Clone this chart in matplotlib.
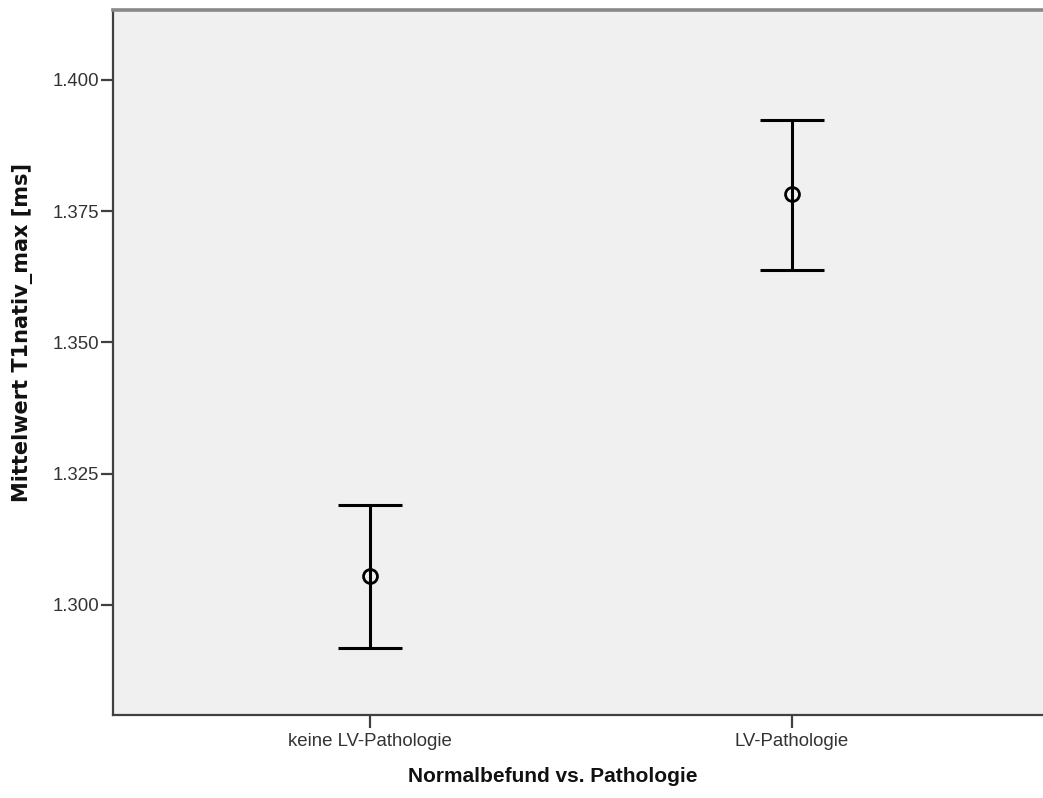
import matplotlib.pyplot as plt
import numpy as np

# group means with 95% CI bounds
groups = ["keine LV-Pathologie", "LV-Pathologie"]
means = [1.3055, 1.3782]
ci_low = [1.2918, 1.3637]
ci_high = [1.3190, 1.3923]
yticks = [1.300, 1.325, 1.350, 1.375, 1.400]

plt.rcParams['font.family'] = ['Liberation Sans', 'DejaVu Sans']

fig = plt.figure(figsize=(10.43, 7.98), dpi=100)
W, H = 1043, 798
ax = fig.add_axes([113/W, 1 - 715/H, (1049-113)/W, (715-10)/H])
ax.set_facecolor('#f0f0f0')

x = np.arange(len(groups))
m = np.array(means)
err = np.array([m - np.array(ci_low), np.array(ci_high) - m])
ax.errorbar(x, m, yerr=err, fmt='none', ecolor='black', elinewidth=2.2,
            capsize=23, capthick=2.2, zorder=3)
ax.plot(x, m, 'o', mfc='none', mec='black', ms=10, mew=2.0, zorder=4)

ax.set_xlim(-0.609, 1.609)
ax.set_ylim(1.2790, 1.4133)
ax.set_xticks(x)
ax.set_xticklabels(groups)
ax.set_yticks(yticks)
ax.set_yticklabels(["%.3f" % v for v in yticks])
ax.tick_params(axis='y', length=9, width=1.6, color='#404040', pad=1,
               labelsize=13.4, labelcolor='#333333')
ax.tick_params(axis='x', length=9, width=1.6, color='#404040', pad=4,
               labelsize=13.4, labelcolor='#333333')

for s in ['left', 'bottom']:
    ax.spines[s].set_color('#404040')
    ax.spines[s].set_linewidth(1.6)
ax.spines['top'].set_color('#888888')
ax.spines['top'].set_linewidth(2.6)
ax.spines['right'].set_visible(False)

fig.text(553/W, 1 - 776/H, "Normalbefund vs. Pathologie", ha='center', va='center',
         fontsize=15, fontweight='bold', color='#111111')
fig.text(23/W, 1 - 332/H, "Mittelwert T1nativ_max [ms]", ha='center', va='center',
         rotation=90, fontsize=15, fontweight='bold', color='#111111',
         family='DejaVu Sans')

fig.savefig('out.png', dpi=100)
